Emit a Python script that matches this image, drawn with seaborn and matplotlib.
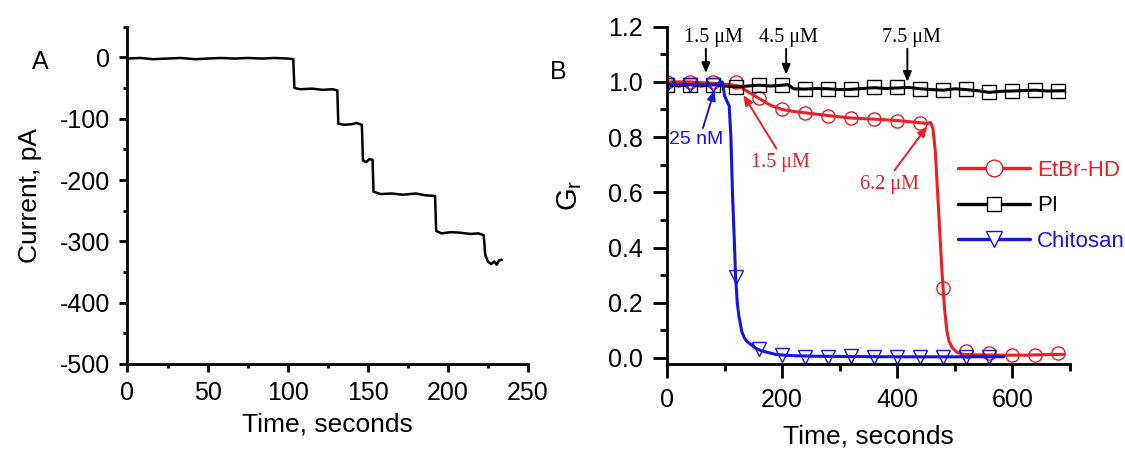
import matplotlib
matplotlib.use("Agg")
import matplotlib.pyplot as plt
import seaborn as sns
from matplotlib.lines import Line2D
from matplotlib.ticker import MultipleLocator, FormatStrFormatter

# ---- panel A: current trace
time_a = [0, 8, 16, 25, 33, 42, 50, 58, 67, 75, 84, 92, 100, 103.5, 104.2, 108, 115, 122, 128, 131, 131.6, 135,
          140, 143, 146.3, 147, 149, 151, 153, 153.6, 158, 165, 172, 180, 186, 192, 192.7, 196, 202, 208, 214,
          219, 222.4, 223.3, 225, 227, 229, 230.5, 232, 233.7]
current_a = [-2, -1, -3, -2, -1, -3, -2, -1, -2, -1, -2, -1, -2, -3, -50, -52, -51, -53, -52, -54, -108, -110,
             -109, -107, -110, -168, -171, -166, -167, -219, -223, -222, -224, -222, -225, -226, -283, -287,
             -285, -286, -288, -287, -290, -322, -333, -337, -333, -338, -331, -330]

# ---- panel B: relative conductance G_r
time_et = [0, 40, 80, 110, 125, 140, 160, 180, 200, 220, 240, 280, 320, 360, 400, 440, 452, 458, 462, 466,
           470, 474, 478, 482, 486, 490, 496, 504, 515, 540, 580, 620, 660, 690]
gr_et = [1.0, 1.0, 0.995, 0.99, 0.985, 0.965, 0.94, 0.915, 0.9, 0.893, 0.888, 0.878, 0.869, 0.865, 0.86, 0.852,
         0.849, 0.853, 0.83, 0.75, 0.6, 0.45, 0.3, 0.18, 0.1, 0.06, 0.035, 0.02, 0.013, 0.011, 0.01, 0.01,
         0.012, 0.013]
mark_t_et = [0, 40, 80, 120, 160, 200, 240, 280, 320, 360, 400, 440, 480, 520, 560, 600, 640, 680]
mark_gr_et = [1.0, 1.0, 1.0, 1.0, 0.943, 0.901, 0.887, 0.877, 0.869, 0.865, 0.859, 0.851, 0.255, 0.024,
              0.016, 0.01, 0.012, 0.016]

time_pi = [0, 20, 40, 60, 80, 100, 120, 140, 160, 180, 200, 210, 220, 240, 260, 280, 300, 320, 340, 360, 380,
           400, 420, 440, 460, 480, 500, 520, 540, 560, 580, 600, 620, 640, 660, 690]
gr_pi = [0.99, 0.985, 0.99, 0.985, 0.99, 0.985, 0.982, 0.985, 0.988, 0.985, 0.988, 0.99, 0.975, 0.974,
         0.976, 0.975, 0.972, 0.973, 0.976, 0.979, 0.976, 0.978, 0.98, 0.975, 0.972, 0.97, 0.975, 0.972,
         0.968, 0.962, 0.966, 0.967, 0.969, 0.97, 0.967, 0.968]
mark_t_pi = [0, 40, 80, 120, 160, 200, 240, 280, 320, 360, 400, 440, 480, 520, 560, 600, 640, 680]
mark_gr_pi = [0.99, 0.99, 0.99, 0.983, 0.988, 0.988, 0.976, 0.976, 0.973, 0.98, 0.98, 0.976, 0.971,
              0.973, 0.964, 0.967, 0.971, 0.967]

time_ch = [0, 40, 80, 92, 96, 100, 104, 108, 111, 114, 117, 119, 122, 125, 130, 135, 140, 148, 155, 165,
           175, 190, 220, 260, 320, 400, 500, 585]
gr_ch = [0.99, 0.99, 0.99, 0.995, 1.0, 0.95, 0.93, 0.913, 0.8, 0.58, 0.42, 0.3, 0.2, 0.15, 0.094, 0.07,
         0.058, 0.045, 0.034, 0.025, 0.02, 0.012, 0.008, 0.006, 0.005, 0.004, 0.004, 0.004]
mark_t_ch = [0, 40, 80, 120, 160, 200, 240, 280, 320, 360, 400, 440, 480, 520, 560]
mark_gr_ch = [0.99, 0.99, 0.99, 0.293, 0.034, 0.01, 0.005, 0.005, 0.006, 0.005, 0.004, 0.005, 0.005,
              0.004, 0.004]

RED = "#ec1f24"
BLUE = "#1414dc"
BLACK = "#000000"

sns.set_style("ticks")
plt.rcParams["font.family"] = ["Liberation Sans", "DejaVu Sans"]
plt.rcParams["axes.linewidth"] = 2
plt.rcParams["axes.unicode_minus"] = False
for key in ("text.color", "axes.labelcolor", "xtick.color", "ytick.color", "axes.edgecolor"):
    plt.rcParams[key] = BLACK

fig = plt.figure(figsize=(11.25, 4.53), dpi=100)
axA = fig.add_axes([0.1133, 0.1965, 0.356, 0.7446])
axB = fig.add_axes([0.5929, 0.1965, 0.3582, 0.7446])

TICK_FS = 18
LABEL_FS = 19

sns.despine(ax=axA)
axA.tick_params(which="major", direction="out", length=6, width=2, labelsize=TICK_FS, pad=6.4)
axA.tick_params(which="minor", direction="out", length=3, width=2)

sns.despine(ax=axB)
axB.tick_params(which="major", direction="out", length=10, width=2, labelsize=TICK_FS, pad=7.5)
axB.tick_params(which="minor", direction="out", length=5, width=2)

# ---- panel A
sns.lineplot(x=time_a, y=current_a, ax=axA, color=BLACK, lw=1.8, estimator=None, sort=False)
axA.set_xlim(0, 250)
axA.set_ylim(-500, 50)
axA.xaxis.set_major_locator(MultipleLocator(50))
axA.xaxis.set_minor_locator(MultipleLocator(25))
axA.yaxis.set_major_locator(MultipleLocator(100))
axA.yaxis.set_minor_locator(MultipleLocator(50))
axA.set_xlabel("Time, seconds", fontsize=LABEL_FS, labelpad=5)
axA.set_ylabel("Current, pA", fontsize=LABEL_FS, labelpad=13)
fig.text(40 / 1125, 1 - 62 / 453, "A", fontsize=18, ha="center", va="center")

# ---- panel B
series = [
    (time_et, gr_et, mark_t_et, mark_gr_et, RED, "o", 12),
    (time_pi, gr_pi, mark_t_pi, mark_gr_pi, BLACK, "s", 10),
    (time_ch, gr_ch, mark_t_ch, mark_gr_ch, BLUE, "v", 12),
]
handles = []
for t, g, mt, mg, col, mk, lms in series:
    sns.lineplot(x=t, y=g, ax=axB, color=col, lw=2.2, estimator=None, sort=False)
    axB.plot(mt, mg, ls="none", marker=mk, ms=9.5, mfc="none", mec=col, mew=1.0)
    handles.append(Line2D([0], [0], color=col, lw=2.4, marker=mk, ms=lms, mfc="white", mec=col, mew=1.0))

axB.set_xlim(0, 700)
axB.set_ylim(-0.022, 1.2)
axB.xaxis.set_major_locator(MultipleLocator(200))
axB.xaxis.set_minor_locator(MultipleLocator(100))
axB.yaxis.set_major_locator(MultipleLocator(0.2))
axB.yaxis.set_minor_locator(MultipleLocator(0.1))
axB.yaxis.set_major_formatter(FormatStrFormatter("%.1f"))
axB.set_xlabel("Time, seconds", fontsize=LABEL_FS, labelpad=9)
axB.set_ylabel(r"G$_\mathregular{r}$", fontsize=LABEL_FS + 2, labelpad=17)
fig.text(558 / 1125, 1 - 72 / 453, "B", fontsize=18, ha="center", va="center")

leg = axB.legend(handles, ["EtBr-HD", "PI", "Chitosan"], loc="upper left",
                 bbox_transform=fig.transFigure, bbox_to_anchor=(958 / 1125, 1 - 160 / 453),
                 frameon=False, fontsize=16, handlelength=3.25, handletextpad=0.3,
                 labelspacing=0.65, borderpad=0, borderaxespad=0)
for txt, col in zip(leg.get_texts(), [RED, BLACK, BLUE]):
    txt.set_color(col)

serif = ["Liberation Serif", "DejaVu Serif"]
arrow_kw = dict(arrowstyle="-|>,head_length=0.6,head_width=0.25", lw=1.4)

# black additions (PI)
for label, tx, tip_x, tip_y in [("1.5 μM", 80, 67.5, 1.022), ("4.5 μM", 211, 207, 1.016),
                                ("7.5 μM", 424, 417.5, 0.99)]:
    axB.text(tx, 1.16, label, family=serif, fontsize=14.5, ha="center", va="center", color=BLACK)
    axB.annotate("", xy=(tip_x, tip_y), xytext=(tip_x, 1.13),
                 arrowprops=dict(color=BLACK, **arrow_kw))

# blue addition (Chitosan)
axB.text(50.6, 0.793, "25 nM", fontsize=14, ha="center", va="center", color=BLUE)
axB.annotate("", xy=(84, 0.98), xytext=(61, 0.823), arrowprops=dict(color=BLUE, **arrow_kw))

# red additions (EtBr-HD)
axB.text(197, 0.708, "1.5 μM", family=serif, fontsize=14.5, ha="center", va="center", color=RED)
axB.annotate("", xy=(130, 0.961), xytext=(192.5, 0.75), arrowprops=dict(color=RED, **arrow_kw))
axB.text(386, 0.63, "6.2 μM", family=serif, fontsize=14.5, ha="center", va="center", color=RED)
axB.annotate("", xy=(455, 0.847), xytext=(392.5, 0.672), arrowprops=dict(color=RED, **arrow_kw))

fig.savefig("out.png", dpi=100)
